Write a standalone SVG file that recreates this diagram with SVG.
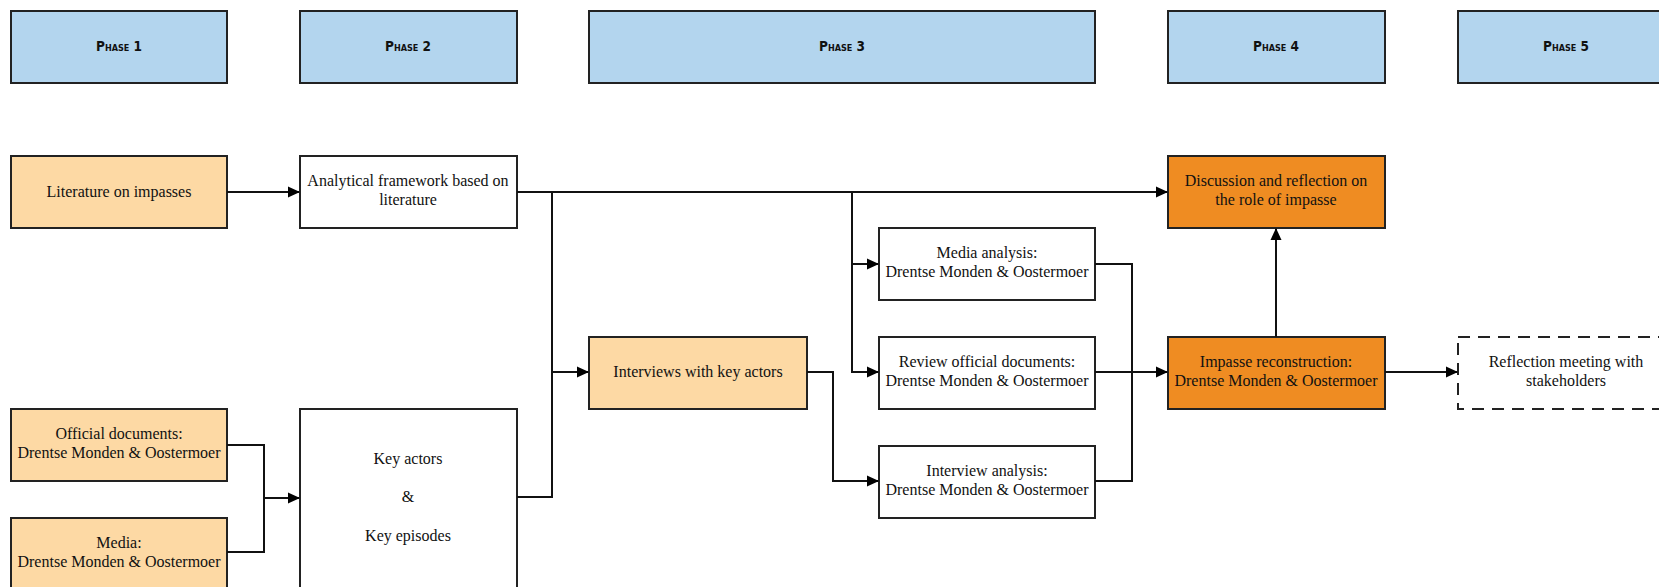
<svg xmlns="http://www.w3.org/2000/svg" width="1659" height="587" viewBox="0 0 1659 587">
<defs>
<marker id="arr" markerWidth="12" markerHeight="12" refX="11" refY="6" orient="auto" markerUnits="userSpaceOnUse" viewBox="0 0 12 12">
<path d="M0,0.5 L12,6 L0,11.5 z" fill="#000"/>
</marker>
<style>
.phase{fill:#b3d5ee;stroke:#222;stroke-width:2}
.lo{fill:#fdd9a4;stroke:#222;stroke-width:2}
.do{fill:#ef8c22;stroke:#222;stroke-width:2}
.wh{fill:#fff;stroke:#222;stroke-width:2}
.dash{fill:#fff;stroke:#222;stroke-width:2;stroke-dasharray:12 8}
.pt{font-family:"DejaVu Sans Condensed","DejaVu Sans",sans-serif;font-weight:bold;font-size:13.5px;font-variant:small-caps;fill:#111;text-anchor:middle}
.t{font-family:"Liberation Serif",serif;font-size:16px;fill:#111;text-anchor:middle}
.c{fill:none;stroke:#111;stroke-width:2}
</style>
</defs>
<rect width="1659" height="587" fill="#fff"/>
<g id="phase1"><rect class="phase" x="11" y="11" width="216" height="72"/><text class="pt" x="119" y="51">Phase 1</text></g>
<g id="phase2"><rect class="phase" x="300" y="11" width="217" height="72"/><text class="pt" x="408" y="51">Phase 2</text></g>
<g id="phase3"><rect class="phase" x="589" y="11" width="506" height="72"/><text class="pt" x="842" y="51">Phase 3</text></g>
<g id="phase4"><rect class="phase" x="1168" y="11" width="217" height="72"/><text class="pt" x="1276" y="51">Phase 4</text></g>
<g id="phase5"><rect class="phase" x="1458" y="11" width="217" height="72"/><text class="pt" x="1566" y="51">Phase 5</text></g>

<g id="literature"><rect class="lo" x="11" y="156" width="216" height="72"/><text class="t" x="119" y="197">Literature on impasses</text></g>
<g id="framework"><rect class="wh" x="300" y="156" width="217" height="72"/><text class="t" x="408" y="186">Analytical framework based on</text><text class="t" x="408" y="205">literature</text></g>
<g id="discussion"><rect class="do" x="1168" y="156" width="217" height="72"/><text class="t" x="1276" y="186">Discussion and reflection on</text><text class="t" x="1276" y="205">the role of impasse</text></g>

<g id="media-analysis"><rect class="wh" x="879" y="228" width="216" height="72"/><text class="t" x="987" y="258">Media analysis:</text><text class="t" x="987" y="277">Drentse Monden &amp; Oostermoer</text></g>
<g id="interviews"><rect class="lo" x="589" y="337" width="218" height="72"/><text class="t" x="698" y="377">Interviews with key actors</text></g>
<g id="review"><rect class="wh" x="879" y="337" width="216" height="72"/><text class="t" x="987" y="367">Review official documents:</text><text class="t" x="987" y="386">Drentse Monden &amp; Oostermoer</text></g>
<g id="impasse"><rect class="do" x="1168" y="337" width="217" height="72"/><text class="t" x="1276" y="367">Impasse reconstruction:</text><text class="t" x="1276" y="386">Drentse Monden &amp; Oostermoer</text></g>
<g id="reflection"><rect class="dash" x="1458" y="337" width="217" height="72"/><text class="t" x="1566" y="367">Reflection meeting with</text><text class="t" x="1566" y="386">stakeholders</text></g>
<g id="interview-analysis"><rect class="wh" x="879" y="446" width="216" height="72"/><text class="t" x="987" y="476">Interview analysis:</text><text class="t" x="987" y="495">Drentse Monden &amp; Oostermoer</text></g>

<g id="official"><rect class="lo" x="11" y="409" width="216" height="72"/><text class="t" x="119" y="439">Official documents:</text><text class="t" x="119" y="458">Drentse Monden &amp; Oostermoer</text></g>
<g id="media"><rect class="lo" x="11" y="518" width="216" height="80"/><text class="t" x="119" y="548">Media:</text><text class="t" x="119" y="567">Drentse Monden &amp; Oostermoer</text></g>
<g id="key"><rect class="wh" x="300" y="409" width="217" height="200"/><text class="t" x="408" y="464">Key actors</text><text class="t" x="408" y="502">&amp;</text><text class="t" x="408" y="541">Key episodes</text></g>

<g id="connectors">
<path class="c" d="M227,192 H299" marker-end="url(#arr)"/>
<path class="c" d="M517,192 H1167" marker-end="url(#arr)"/>
<path class="c" d="M552,192 V497 H517"/>
<path class="c" d="M552,372 H588" marker-end="url(#arr)"/>
<path class="c" d="M852,192 V372 H878" marker-end="url(#arr)"/>
<path class="c" d="M852,264 H878" marker-end="url(#arr)"/>
<path class="c" d="M807,372 H833 V481 H878" marker-end="url(#arr)"/>
<path class="c" d="M1095,264 H1132 V481 H1095"/>
<path class="c" d="M1095,372 H1167" marker-end="url(#arr)"/>
<path class="c" d="M1276,337 V229" marker-end="url(#arr)"/>
<path class="c" d="M1385,372 H1457" marker-end="url(#arr)"/>
<path class="c" d="M227,445 H264 V552 H227"/>
<path class="c" d="M264,498 H299" marker-end="url(#arr)"/>
</g>
</svg>
